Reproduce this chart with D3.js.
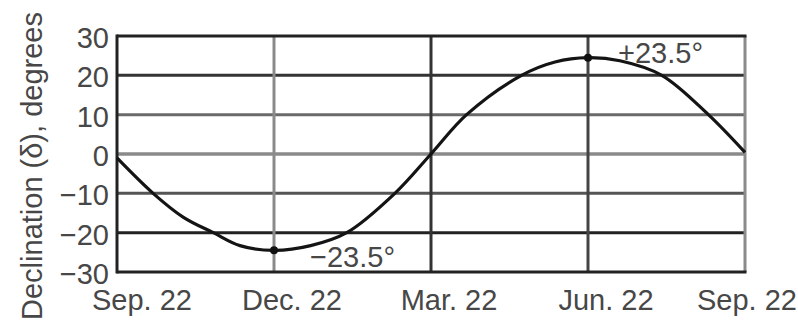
<!DOCTYPE html>
<html>
<head>
<meta charset="utf-8">
<script src="https://cdn.jsdelivr.net/npm/d3@7"></script>
<style>
  html, body { margin: 0; padding: 0; background: #fff; }
  svg { display: block; font-family: "Liberation Sans", Arial, sans-serif; }
</style>
</head>
<body>
<svg id="chart" width="798" height="324"></svg>
<script>
// ---- data ----
const curveMonths = [0, 0.69, 1.27, 1.84, 2.35, 3, 3.7, 4.39, 5.31, 6, 6.68, 7.73, 8.37, 9, 9.61, 10.41, 11.3, 12];
const declination = [-1, -10, -16.1, -20, -23.3, -24.5, -23.3, -20, -10, 0, 10, 20, 23.4, 24.5, 23.7, 20, 10, 0.4];
const xTickMonths = [0, 3, 6, 9, 12];
const xTickLabels = ["Sep. 22", "Dec. 22", "Mar. 22", "Jun. 22", "Sep. 22"];
const yTicks = [-30, -20, -10, 0, 10, 20, 30];
const markerMonths = [3, 9];
const markerValues = [-24.5, 24.5];
const annotationTexts = ["\u221223.5\u00b0", "+23.5\u00b0"];
const yTitle = "Declination (\u03b4), degrees";

// ---- layout / style ----
const W = 798, H = 324;
const plot = { left: 117, right: 745, top: 36, bottom: 272 };
const svg = d3.select("#chart");
const x = d3.scaleLinear().domain([0, 12]).range([plot.left, plot.right]);
const y = d3.scaleLinear().domain([-30, 30]).range([plot.bottom, plot.top]);

const hGridStyle = { "20": "#333", "10": "#6a6a6a", "0": "#8a8a8a", "-10": "#555", "-20": "#222" };
const hGridWidth = { "0": 3.5 };
const vGridStyle = ["#222", "#8a8a8a", "#333", "#444", "#8a8a8a"];
const textColor = "#474747";

// horizontal grid lines
const yInner = yTicks.filter(v => v > -30 && v < 30);
svg.append("g").selectAll("line").data(yInner).join("line")
  .attr("x1", plot.left).attr("x2", plot.right)
  .attr("y1", d => y(d)).attr("y2", d => y(d))
  .attr("stroke", d => hGridStyle[String(d)])
  .attr("stroke-width", d => hGridWidth[String(d)] || 3);

// vertical grid lines (inner)
const xInner = xTickMonths.map((m, i) => ({ m, i })).filter(d => d.m > 0 && d.m < 12);
svg.append("g").selectAll("line").data(xInner).join("line")
  .attr("x1", d => x(d.m)).attr("x2", d => x(d.m))
  .attr("y1", plot.top).attr("y2", plot.bottom)
  .attr("stroke", d => vGridStyle[d.i])
  .attr("stroke-width", 3);

// frame
svg.append("line").attr("x1", x(12)).attr("x2", x(12)).attr("y1", plot.top).attr("y2", plot.bottom)
  .attr("stroke", "#8a8a8a").attr("stroke-width", 3);
svg.append("line").attr("x1", x(0)).attr("x2", x(0)).attr("y1", plot.top - 1.5).attr("y2", plot.bottom + 1.5)
  .attr("stroke", "#222").attr("stroke-width", 3);
svg.append("line").attr("x1", plot.left).attr("x2", plot.right + 1.5).attr("y1", y(30)).attr("y2", y(30))
  .attr("stroke", "#222").attr("stroke-width", 3);
svg.append("line").attr("x1", plot.left).attr("x2", plot.right + 1.5).attr("y1", y(-30)).attr("y2", y(-30))
  .attr("stroke", "#222").attr("stroke-width", 3);

// curve
const pts = curveMonths.map((m, i) => [m, declination[i]]);
svg.append("path").datum(pts)
  .attr("d", d3.line().x(d => x(d[0])).y(d => y(d[1])).curve(d3.curveCatmullRom.alpha(0.5)))
  .attr("fill", "none").attr("stroke", "#141414").attr("stroke-width", 3.2);

// markers
svg.append("g").selectAll("circle").data(markerMonths).join("circle")
  .attr("cx", d => x(d)).attr("cy", (d, i) => y(markerValues[i]))
  .attr("r", 4).attr("fill", "#111");

// annotations
const annOffsets = [{ dx: 36, dy: 17 }, { dx: 30, dy: 5 }];
svg.append("g").selectAll("text").data(annotationTexts).join("text")
  .attr("x", (d, i) => x(markerMonths[i]) + annOffsets[i].dx)
  .attr("y", (d, i) => y(markerValues[i]) + annOffsets[i].dy)
  .attr("font-size", 29).attr("fill", textColor)
  .text(d => d);

// y tick labels
svg.append("g").selectAll("text").data(yTicks).join("text")
  .attr("x", plot.left - 8)
  .attr("y", d => y(d) + 2)
  .attr("text-anchor", "end").attr("dominant-baseline", "central")
  .attr("font-size", 29).attr("fill", textColor)
  .text(d => d < 0 ? "\u2212" + Math.abs(d) : String(d));

// x tick labels
const xl = svg.append("g").selectAll("text").data(xTickLabels).join("text")
  .attr("x", (d, i) => x(xTickMonths[i]) + 18)
  .attr("y", 310)
  .attr("text-anchor", "middle")
  .attr("font-size", 29).attr("fill", textColor)
  .text(d => d);
// keep labels inside the page / clear of the y labels
xl.each(function () {
  const bb = this.getBBox();
  const cx = +this.getAttribute("x");
  if (bb.x + bb.width > W - 1) this.setAttribute("x", cx - (bb.x + bb.width - (W - 1)));
  if (bb.x < 92) this.setAttribute("x", cx + (92 - bb.x));
});

// y axis title, sized to fit the height of the page
const title = svg.append("text")
  .attr("transform", `translate(42,166) rotate(-90)`)
  .attr("text-anchor", "middle")
  .attr("font-size", 30).attr("fill", textColor)
  .text(yTitle);
const tl = title.node().getComputedTextLength();
const maxLen = 308;
if (tl > maxLen) title.attr("font-size", 30 * maxLen / tl);
</script>
</body>
</html>
